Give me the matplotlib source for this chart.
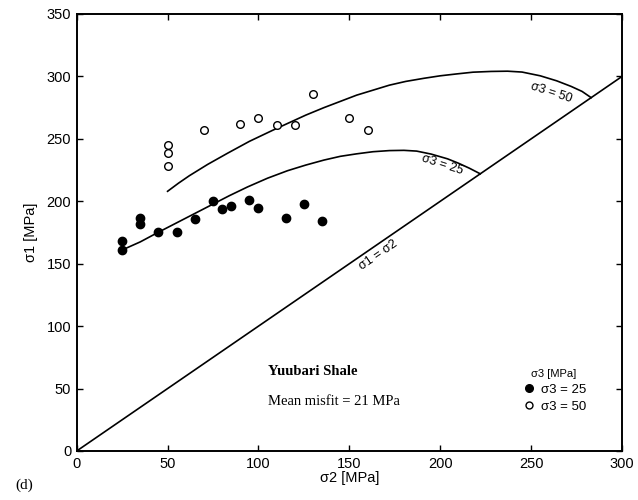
import matplotlib
matplotlib.use("Agg")
import matplotlib.pyplot as plt
from matplotlib.lines import Line2D

# Triaxial test data, Yuubari shale (sigma2 vs sigma1 at failure)
sigma2_s25 = [25, 25, 35, 35, 45, 55, 65, 75, 80, 85, 95, 100, 115, 125, 135]
sigma1_s25 = [168, 161, 187, 182, 175, 175, 186, 200, 194, 196, 201, 195, 187, 198, 184]

sigma2_s50 = [50, 50, 50, 70, 90, 100, 110, 120, 130, 150, 160]
sigma1_s50 = [228, 239, 245, 257, 262, 267, 261, 261, 286, 267, 257]

# fitted failure envelopes
fit25_s2 = [25, 35, 44, 54, 64, 74, 84, 94, 105, 116, 126, 136, 145, 154,
            163, 172, 180, 187, 195, 204, 210, 216, 222]
fit25_s1 = [161, 167.5, 174.5, 182, 189.5, 197, 204.5, 211.5, 218.5, 224.5, 229, 233,
            236, 238, 239.7, 240.6, 240.8, 240.2, 237.8, 234, 230.5, 226.5, 222]

fit50_s2 = [50, 56, 62, 72, 83, 95, 108, 117, 126, 136, 145, 154, 163, 172,
            181, 191, 200, 209, 218, 228, 237, 245, 255, 264, 272, 278, 283]
fit50_s1 = [208, 214.5, 220.5, 229.5, 238.5, 248, 257, 263, 269, 275, 280, 285, 289,
            293, 296, 298.5, 300.5, 302, 303.4, 304, 304.2, 303.5, 300.5, 296.5,
            292, 288, 283]

sans = "Liberation Sans"
serif = "Liberation Serif"

fig = plt.figure(figsize=(6.38, 5.0), dpi=100)
ax = fig.add_axes([0.1202, 0.098, 0.8548, 0.874])

# sigma1 = sigma2 line
ax.plot([0, 300], [0, 300], color="black", lw=1.2)
ax.plot(fit25_s2, fit25_s1, color="black", lw=1.2)
ax.plot(fit50_s2, fit50_s1, color="black", lw=1.2)

ax.plot(sigma2_s25, sigma1_s25, "o", color="black", ms=6, ls="none")
ax.plot(sigma2_s50, sigma1_s50, "o", mfc="white", mec="black", mew=1.0, ms=5.5, ls="none")

ax.text(166, 157, "σ1 = σ2", rotation=34.5, ha="center", va="center",
        fontsize=9, family=sans)
ax.text(201, 229, "σ3 = 25", rotation=-18, ha="center", va="center",
        fontsize=9, family=sans)
ax.text(261, 287, "σ3 = 50", rotation=-18, ha="center", va="center",
        fontsize=9, family=sans)

ax.text(105, 64, "Yuubari Shale", fontsize=10.5, family=serif, weight="bold",
        va="center")
ax.text(105, 39.5, "Mean misfit = 21 MPa", fontsize=10.5, family=serif,
        va="center")

handles = [
    Line2D([], [], marker="o", ls="none", color="black", ms=5.5),
    Line2D([], [], marker="o", ls="none", mfc="white", mec="black", mew=1.0, ms=5),
]
leg = ax.legend(handles, ["σ3 = 25", "σ3 = 50"], title="σ3 [MPa]",
                loc="upper left", bbox_to_anchor=(0.795, 0.215),
                frameon=False, handletextpad=0.4, handlelength=1.0,
                labelspacing=0.35, prop={"family": sans, "size": 9.5},
                title_fontproperties={"family": sans, "size": 8})

ax.set_xlim(0, 300)
ax.set_ylim(0, 350)
ax.set_xticks(range(0, 301, 50))
ax.set_yticks(range(0, 351, 50))
ax.tick_params(direction="in", top=True, right=True, length=4, width=1,
               labelsize=10.5, pad=4)
for lab in ax.get_xticklabels() + ax.get_yticklabels():
    lab.set_family(sans)
for sp in ax.spines.values():
    sp.set_linewidth(1.4)

ax.set_xlabel("σ2 [MPa]", family=sans, fontsize=10.5, labelpad=0)
ax.set_ylabel("σ1 [MPa]", family=sans, fontsize=10.5, labelpad=6)

fig.text(0.038, 0.03, "(d)", family=serif, fontsize=11, ha="center", va="center")

fig.savefig("out.png", dpi=100)
